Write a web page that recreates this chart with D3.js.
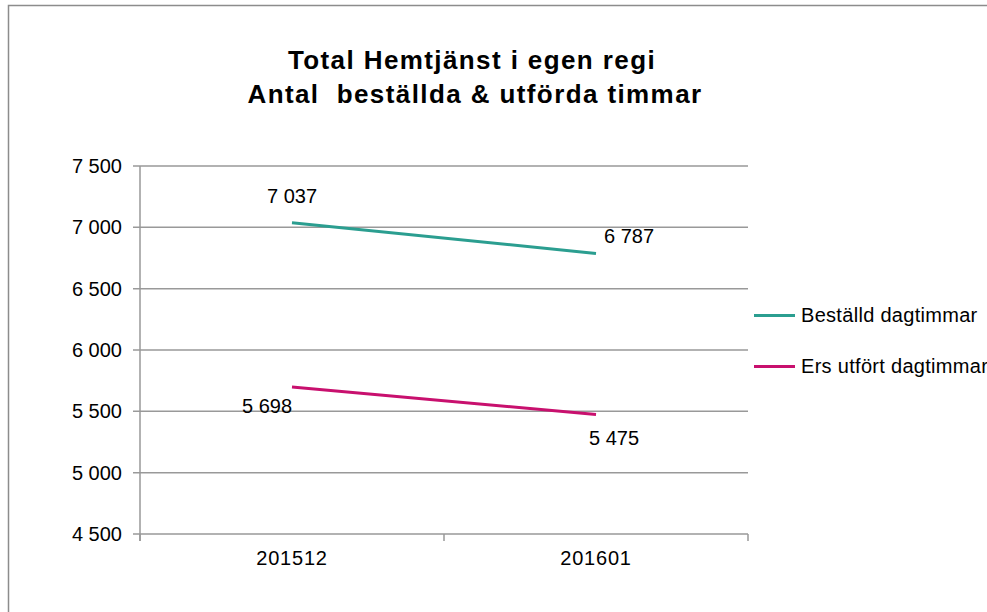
<!DOCTYPE html>
<html>
<head>
<meta charset="utf-8">
<script src="https://cdn.jsdelivr.net/npm/d3@7"></script>
<style>
  body { margin: 0; background: #fff; overflow: hidden; }
  svg { font-family: "Liberation Sans", Arial, sans-serif; }
</style>
</head>
<body>
<div id="root"></div>
<script>
// data
let categories = ["201512", "201601"];
let seriesNames = ["Beställd dagtimmar", "Ers utfört dagtimmar"];
let bestalld = [7037, 6787];
let utfort = [5698, 5475];
let yTicks = [4500, 5000, 5500, 6000, 6500, 7000, 7500];
let titleLines = ["Total Hemtjänst i egen regi", "Antal  beställda & utförda timmar"];

let width = 987, height = 612;
let colors = ["#2b9e90", "#c8106e"];

let svg = d3.select('#root').append('svg')
    .attr('width', width)
    .attr('height', height);

// outer chart border
svg.append('path')
    .attr('d', 'M8.5,' + height + ' V5.5 H' + width)
    .attr('fill', 'none')
    .attr('stroke', '#8c8c8c')
    .attr('stroke-width', 1.5);

let plot = { left: 140, right: 748, top: 166, bottom: 534 };

let x = d3.scaleBand()
    .domain(categories)
    .range([plot.left, plot.right]);

let y = d3.scaleLinear()
    .domain([4500, 7500])
    .range([plot.bottom, plot.top]);

let fmt = v => d3.format(",")(v).replace(/,/g, " ");

// title
svg.append('g').selectAll('text')
    .data(titleLines)
    .enter().append('text')
    .attr('x', (d, i) => i ? 475 : 472)
    .attr('y', (d, i) => 69 + i * 34)
    .attr('text-anchor', 'middle')
    .style('font-size', '26px')
    .style('font-weight', 'bold')
    .style('letter-spacing', '1.4px')
    .style('white-space', 'pre')
    .text(d => d);

// gridlines
svg.append('g').selectAll('line')
    .data(yTicks)
    .enter().append('line')
    .attr('x1', plot.left - 7)
    .attr('x2', plot.right)
    .attr('y1', d => y(d))
    .attr('y2', d => y(d))
    .attr('stroke', '#999')
    .attr('stroke-width', 1.5);

// y axis
svg.append('line')
    .attr('x1', plot.left).attr('x2', plot.left)
    .attr('y1', plot.top).attr('y2', plot.bottom + 7)
    .attr('stroke', '#999').attr('stroke-width', 1.5);

svg.append('g').selectAll('text')
    .data(yTicks)
    .enter().append('text')
    .attr('x', plot.left - 18)
    .attr('y', d => y(d) + 7)
    .attr('text-anchor', 'end')
    .style('font-size', '20px')
    .text(d => fmt(d));

// x axis tick marks at band boundaries
let bounds = categories.map(c => x(c)).concat([plot.right]);
svg.append('g').selectAll('line')
    .data(bounds)
    .enter().append('line')
    .attr('x1', d => d).attr('x2', d => d)
    .attr('y1', plot.bottom).attr('y2', plot.bottom + 7)
    .attr('stroke', '#999').attr('stroke-width', 1.5);

svg.append('g').selectAll('text')
    .data(categories)
    .enter().append('text')
    .attr('x', d => x(d) + x.bandwidth() / 2)
    .attr('y', plot.bottom + 31)
    .attr('text-anchor', 'middle')
    .style('font-size', '20px')
    .style('letter-spacing', '0.8px')
    .text(d => d);

// lines
let series = [bestalld, utfort];
let line = d3.line()
    .x((d, i) => x(categories[i]) + x.bandwidth() / 2)
    .y(d => y(d));

series.forEach(function (s, k) {
    svg.append('path')
        .datum(s)
        .attr('d', line)
        .attr('fill', 'none')
        .attr('stroke', colors[k])
        .attr('stroke-width', 3);
});

// data labels (offsets)
let labelOffsets = [
    [[0, -20], [33, -10]],
    [[-25, 26], [18, 31]]
];
series.forEach(function (s, k) {
    s.forEach(function (v, i) {
        svg.append('text')
            .attr('x', x(categories[i]) + x.bandwidth() / 2 + labelOffsets[k][i][0])
            .attr('y', y(v) + labelOffsets[k][i][1])
            .attr('text-anchor', 'middle')
            .style('font-size', '20px')
            .text(fmt(v));
    });
});

// legend
let legend = svg.append('g').selectAll('g')
    .data(seriesNames)
    .enter().append('g')
    .attr('transform', (d, i) => 'translate(754,' + (315.5 + i * 51) + ')');

legend.append('line')
    .attr('x1', 0).attr('x2', 41)
    .attr('stroke', (d, i) => colors[i])
    .attr('stroke-width', 3);

legend.append('text')
    .attr('x', 47)
    .attr('y', 6)
    .style('font-size', '20px')
    .style('letter-spacing', '0.3px')
    .text(d => d);
</script>
</body>
</html>
